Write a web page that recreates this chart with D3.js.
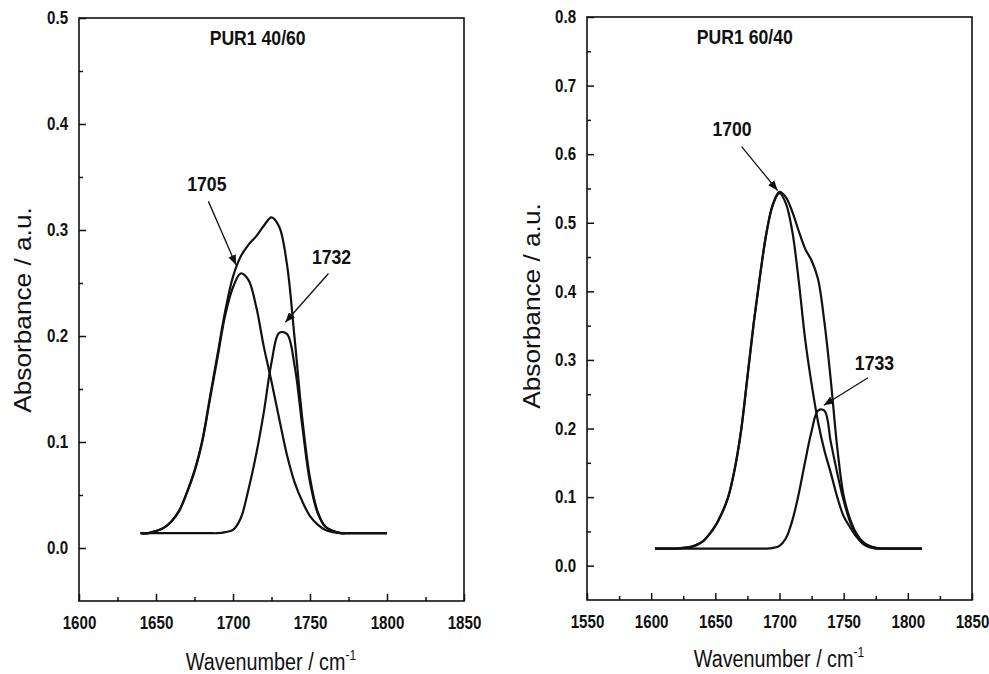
<!DOCTYPE html>
<html>
<head>
<meta charset="utf-8">
<script src="https://cdn.jsdelivr.net/npm/d3@7"></script>
<style>
  body { margin: 0; background: #fff; }
  svg { display: block; font-family: "Liberation Sans", Arial, sans-serif; }
</style>
</head>
<body>
<div id="chart"></div>
<script>
// left panel: PUR1 40/60
const wnLeft = [1640, 1645, 1650, 1655, 1660, 1665, 1670, 1675, 1680, 1685, 1690, 1695, 1700, 1705, 1710, 1715,
  1720, 1725, 1730, 1735, 1740, 1745, 1750, 1755, 1760, 1765, 1770, 1775, 1780, 1785, 1790, 1795, 1800];
const envLeft = [0.014, 0.014, 0.016, 0.019, 0.025, 0.035, 0.052, 0.073, 0.101, 0.142, 0.183, 0.224, 0.256, 0.275, 0.286, 0.294,
  0.304, 0.312, 0.303, 0.268, 0.198, 0.122, 0.066, 0.034, 0.020, 0.016, 0.014, 0.014, 0.014, 0.014, 0.014, 0.014, 0.014];
const band1705 = [0.014, 0.014, 0.016, 0.019, 0.025, 0.035, 0.052, 0.072, 0.100, 0.140, 0.180, 0.220, 0.246, 0.259, 0.253, 0.228,
  0.190, 0.157, 0.122, 0.088, 0.062, 0.044, 0.030, 0.022, 0.017, 0.015, 0.014, 0.014, 0.014, 0.014, 0.014, 0.014, 0.014];
const band1732 = [0.014, 0.014, 0.014, 0.014, 0.014, 0.014, 0.014, 0.014, 0.014, 0.014, 0.014, 0.015, 0.017, 0.028, 0.055, 0.088,
  0.128, 0.175, 0.203, 0.202, 0.172, 0.115, 0.062, 0.033, 0.020, 0.016, 0.014, 0.014, 0.014, 0.014, 0.014, 0.014, 0.014];

// right panel: PUR1 60/40
const wnRight = [1603, 1610, 1615, 1620, 1625, 1630, 1635, 1640, 1645, 1650, 1655, 1660, 1665, 1670, 1675, 1680, 1685, 1690,
  1695, 1700, 1705, 1710, 1715, 1720, 1725, 1730, 1735, 1740, 1745, 1750, 1755, 1760, 1765, 1770, 1775, 1780,
  1785, 1790, 1795, 1800, 1805, 1811];
const envRight = [0.025, 0.025, 0.025, 0.025, 0.026, 0.027, 0.030, 0.035, 0.045, 0.058, 0.076, 0.100, 0.140, 0.196, 0.275, 0.355, 0.425, 0.487,
  0.528, 0.545, 0.537, 0.516, 0.488, 0.462, 0.445, 0.418, 0.355, 0.270, 0.172, 0.102, 0.068, 0.047, 0.035, 0.029, 0.026, 0.025,
  0.025, 0.025, 0.025, 0.025, 0.025, 0.025];
const band1700 = [0.025, 0.025, 0.025, 0.025, 0.026, 0.027, 0.030, 0.035, 0.045, 0.058, 0.076, 0.100, 0.140, 0.196, 0.275, 0.355, 0.425, 0.487,
  0.527, 0.543, 0.528, 0.487, 0.415, 0.330, 0.265, 0.210, 0.168, 0.135, 0.100, 0.072, 0.056, 0.042, 0.032, 0.027, 0.025, 0.025,
  0.025, 0.025, 0.025, 0.025, 0.025, 0.025];
const band1733 = [0.025, 0.025, 0.025, 0.025, 0.025, 0.025, 0.025, 0.025, 0.025, 0.025, 0.025, 0.025, 0.025, 0.025, 0.025, 0.025, 0.025, 0.025,
  0.026, 0.029, 0.040, 0.066, 0.105, 0.152, 0.196, 0.226, 0.226, 0.180, 0.135, 0.095, 0.064, 0.045, 0.034, 0.028, 0.026, 0.025,
  0.025, 0.025, 0.025, 0.025, 0.025, 0.025];

// annotations: label text, label position, arrow tail, arrow tip (data units)
const notesLeft = [
  { text: '1705', at: [1683, 0.337], from: [1684, 0.327], to: [1702, 0.267] },
  { text: '1732', at: [1764, 0.268], from: [1762, 0.259], to: [1734, 0.213] },
];
const notesRight = [
  { text: '1700', at: [1663, 0.626], from: [1670.5, 0.611], to: [1698.5, 0.547] },
  { text: '1733', at: [1774, 0.286], from: [1769, 0.274], to: [1734.5, 0.234] },
];

const svg = d3.select('#chart').append('svg').attr('width', 989).attr('height', 674);

svg.append('defs')
  .append('marker')
  .attr('id', 'arrow')
  .attr('markerUnits', 'userSpaceOnUse')
  .attr('markerWidth', 10)
  .attr('markerHeight', 8)
  .attr('refX', 10)
  .attr('refY', 4)
  .attr('orient', 'auto')
  .append('path')
  .attr('d', 'M0,0L10,4L0,8Z')
  .attr('fill', '#111');

const squeeze = 'scale(0.84,1)';

const drawPanel = (p) => {
  const x = d3.scaleLinear().domain(p.xDomain).range([p.left, p.right]);
  const y = d3.scaleLinear().domain(p.yDomain).range([p.bottom, p.top]);
  const g = svg.append('g');

  // minor ticks
  g.append('g')
    .attr('transform', `translate(0,${p.bottom})`)
    .call(d3.axisBottom(x).tickValues(p.xMinor).tickFormat('').tickSize(-4).tickSizeOuter(0))
    .call((a) => a.select('.domain').remove());
  g.append('g')
    .attr('transform', `translate(${p.left},0)`)
    .call(d3.axisLeft(y).tickValues(p.yMinor).tickFormat('').tickSize(-4).tickSizeOuter(0))
    .call((a) => a.select('.domain').remove());

  // major ticks with labels
  g.append('g')
    .attr('transform', `translate(0,${p.bottom})`)
    .call(d3.axisBottom(x).tickValues(p.xMajor).tickFormat(d3.format('d')).tickSize(-7).tickSizeOuter(0).tickPadding(15))
    .call((a) => a.select('.domain').remove())
    .call((a) =>
      a.selectAll('text')
        .attr('transform', squeeze)
        .style('font-size', '18px')
        .style('font-weight', 'bold')
        .attr('fill', '#111'));
  g.append('g')
    .attr('transform', `translate(${p.left},0)`)
    .call(d3.axisLeft(y).tickValues(p.yMajor).tickFormat(d3.format('.1f')).tickSize(-7).tickSizeOuter(0).tickPadding(13))
    .call((a) => a.select('.domain').remove())
    .call((a) =>
      a.selectAll('text')
        .attr('transform', squeeze)
        .style('font-size', '18px')
        .style('font-weight', 'bold')
        .attr('fill', '#111'));

  g.selectAll('.tick line').attr('stroke', '#111').attr('stroke-width', 1.5);

  // frame
  g.append('rect')
    .attr('x', p.left)
    .attr('y', p.top)
    .attr('width', p.right - p.left)
    .attr('height', p.bottom - p.top)
    .attr('fill', 'none')
    .attr('stroke', '#111')
    .attr('stroke-width', 1.6);

  // curves
  const line = d3
    .line()
    .x((d) => x(d[0]))
    .y((d) => y(d[1]))
    .curve(d3.curveCatmullRom.alpha(0.5));

  p.series.forEach((s) => {
    g.append('path')
      .datum(p.wn.map((w, i) => [w, s[i]]))
      .attr('fill', 'none')
      .attr('stroke', '#111')
      .attr('stroke-width', 2.2)
      .attr('d', line);
  });

  // panel title
  g.append('text')
    .attr('transform', `translate(${x(p.titleAt[0])},${y(p.titleAt[1])}) ${squeeze}`)
    .attr('text-anchor', 'middle')
    .style('font-size', '21px')
    .style('font-weight', 'bold')
    .attr('fill', '#111')
    .text(p.title);

  // peak labels and arrows
  p.notes.forEach((n) => {
    g.append('text')
      .attr('transform', `translate(${x(n.at[0])},${y(n.at[1])}) ${squeeze}`)
      .attr('text-anchor', 'middle')
      .style('font-size', '21px')
      .style('font-weight', 'bold')
      .attr('fill', '#111')
      .text(n.text);
    g.append('line')
      .attr('x1', x(n.from[0]))
      .attr('y1', y(n.from[1]))
      .attr('x2', x(n.to[0]))
      .attr('y2', y(n.to[1]))
      .attr('stroke', '#111')
      .attr('stroke-width', 1.3)
      .attr('marker-end', 'url(#arrow)');
  });

  // axis titles
  const xt = g.append('text')
    .attr('transform', `translate(${p.xTitle[0]},${p.xTitle[1]}) scale(0.86,1)`)
    .attr('text-anchor', 'middle')
    .style('font-size', '23px')
    .attr('fill', '#111');
  xt.append('tspan').text('Wavenumber / cm');
  xt.append('tspan').attr('dy', -10).style('font-size', '14px').text('-1');

  g.append('text')
    .attr('transform', `translate(${p.yTitle[0]},${p.yTitle[1]}) rotate(-90) scale(1.14,1)`)
    .attr('text-anchor', 'middle')
    .style('font-size', '23px')
    .attr('fill', '#111')
    .text('Absorbance / a.u.');
};

drawPanel({
  left: 79, right: 464, top: 18, bottom: 601,
  xDomain: [1600, 1850], yDomain: [-0.05, 0.5],
  xMajor: [1600, 1650, 1700, 1750, 1800, 1850],
  xMinor: [1625, 1675, 1725, 1775, 1825],
  yMajor: [0, 0.1, 0.2, 0.3, 0.4, 0.5],
  yMinor: [0.05, 0.15, 0.25, 0.35, 0.45],
  wn: wnLeft, series: [envLeft, band1705, band1732],
  title: 'PUR1 40/60', titleAt: [1716, 0.475],
  notes: notesLeft,
  xTitle: [271, 670], yTitle: [31, 310],
});

drawPanel({
  left: 587, right: 972, top: 17, bottom: 600,
  xDomain: [1550, 1850], yDomain: [-0.05, 0.8],
  xMajor: [1550, 1600, 1650, 1700, 1750, 1800, 1850],
  xMinor: [1575, 1625, 1675, 1725, 1775, 1825],
  yMajor: [0, 0.1, 0.2, 0.3, 0.4, 0.5, 0.6, 0.7, 0.8],
  yMinor: [0.05, 0.15, 0.25, 0.35, 0.45, 0.55, 0.65, 0.75],
  wn: wnRight, series: [envRight, band1700, band1733],
  title: 'PUR1 60/40', titleAt: [1673, 0.761],
  notes: notesRight,
  xTitle: [779, 667], yTitle: [540, 306],
});
</script>
</body>
</html>
